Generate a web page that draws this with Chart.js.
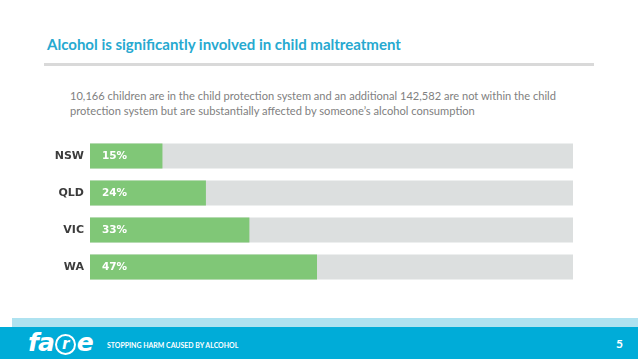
<!DOCTYPE html>
<html>
<head>
<meta charset="utf-8">
<script src="https://cdn.jsdelivr.net/npm/chart.js@4.4.0/dist/chart.umd.min.js"></script>
<style>
  html, body { margin: 0; padding: 0; background: #fff; }
  #page { position: relative; width: 638px; height: 359px; overflow: hidden; background: #fff; }
  .fit { position: absolute; white-space: nowrap; transform-origin: 0 50%; }
  #title { left: 47px; top: 35px; font-family: Lato, "Open Sans", sans-serif; font-weight: 700; font-size: 16px; color: #27a9d0; line-height: 18px; }
  #rule { position: absolute; left: 44px; top: 63px; width: 550px; height: 3px; background: #d9d9d9; }
  .sub { font-family: Lato, "Open Sans", sans-serif; font-size: 12px; color: #7f7f7f; line-height: 14px; }
  #sub1 { left: 70px; top: 89px; }
  #sub2 { left: 70px; top: 104px; }
  #band1 { position: absolute; left: 12px; top: 318px; width: 626px; height: 9px; background: #aee2f0; }
  #band2 { position: absolute; left: 0; top: 327px; width: 638px; height: 32px; background: #00acd8; }
  #logo { position: absolute; left: 28px; top: 330px; font-family: "DejaVu Sans", sans-serif; font-weight: 700; font-style: italic; font-size: 25px; color: #fff; line-height: 26px; letter-spacing: -1px; }
  #logo .r { display: inline-block; width: 17px; height: 17px; border: 2.5px solid #fff; border-radius: 50%; font-size: 15px; line-height: 16px; text-align: center; vertical-align: 2px; margin: 0 1px; box-sizing: content-box; }
  #foot { left: 107px; top: 340px; font-family: Lato, sans-serif; font-weight: 700; font-size: 7px; color: #fff; line-height: 10px; }
  #num { position: absolute; left: 616px; top: 336px; font-family: Lato, sans-serif; font-weight: 700; font-size: 12px; color: #fff; }
  #chartWrap { position: absolute; left: 0; top: 0; width: 638px; height: 359px; }
</style>
</head>
<body>
<div id="page">
  <div id="title" class="fit" data-w="354">Alcohol is significantly involved in child maltreatment</div>
  <div id="rule"></div>
  <div id="sub1" class="fit sub" data-w="486">10,166 children are in the child protection system and an additional 142,582 are not within the child</div>
  <div id="sub2" class="fit sub" data-w="405">protection system but are substantially affected by someone’s alcohol consumption</div>
  <div id="chartWrap"><canvas id="c"></canvas></div>
  <div id="band1"></div>
  <div id="band2"></div>
  <div id="logo">fa<span class="r">r</span>e</div>
  <div id="foot" class="fit" data-w="131">STOPPING HARM CAUSED BY ALCOHOL</div>
  <div id="num">5</div>
</div>
<script>
// ---- data ----
const categories = ["NSW", "QLD", "VIC", "WA"];
const percentValues = [15, 24, 33, 47];
const trackMax = 100;

// fit text widths
document.querySelectorAll('.fit').forEach(el => {
  const target = parseFloat(el.dataset.w);
  const w = el.scrollWidth;
  if (w > 0) el.style.transform = 'scaleX(' + (target / w) + ')';
});

const valueLabels = {
  id: 'valueLabels',
  afterDatasetsDraw(chart) {
    const ctx = chart.ctx;
    const meta = chart.getDatasetMeta(0);
    ctx.save();
    ctx.fillStyle = '#ffffff';
    ctx.font = 'bold 10.5px "DejaVu Sans", sans-serif';
    ctx.textBaseline = 'middle';
    ctx.textAlign = 'left';
    meta.data.forEach((bar, i) => {
      ctx.fillText(percentValues[i] + '%', chart.chartArea.left + 12, bar.y + 0.5);
    });
    ctx.restore();
  }
};

new Chart(document.getElementById('c'), {
  type: 'bar',
  data: {
    labels: categories,
    datasets: [
      { data: percentValues, backgroundColor: '#80c777', borderWidth: 0 },
      { data: categories.map(() => trackMax), backgroundColor: '#dcdfdf', borderWidth: 0 }
    ]
  },
  options: {
    indexAxis: 'y',
    responsive: true,
    maintainAspectRatio: false,
    animation: false,
    events: [],
    layout: { padding: { top: 137.5, bottom: 73.5, left: 0, right: 65 } },
    datasets: { bar: { grouped: false, categoryPercentage: 1, barPercentage: 0.67 } },
    plugins: { legend: { display: false }, tooltip: { enabled: false } },
    scales: {
      x: { display: false, min: 0, max: trackMax },
      y: {
        grid: { display: false, drawTicks: false },
        border: { display: false },
        ticks: { color: '#3c3c3c', padding: 6, font: { family: '"DejaVu Sans", sans-serif', weight: 'bold', size: 11 } },
        afterFit: s => { s.width = 90; }
      }
    }
  },
  plugins: [valueLabels]
});
</script>
</body>
</html>
